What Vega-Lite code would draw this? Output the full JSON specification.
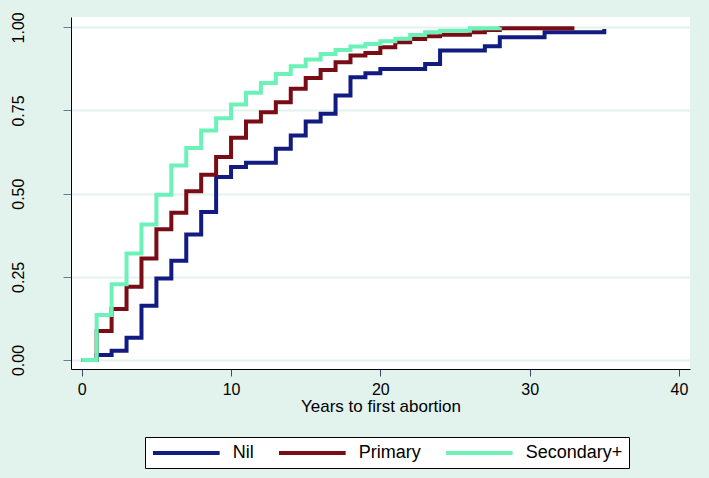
{
  "$schema": "https://vega.github.io/schema/vega-lite/v6.json",
  "width": 619,
  "height": 352,
  "autosize": "none",
  "padding": {"left": 71, "top": 17, "right": 19, "bottom": 109},
  "background": "#e2f3ee",
  "config": {
    "view": {"fill": "white", "stroke": null},
    "font": "Liberation Sans"
  },
  "data": {
    "values": [
      {"group": "Nil", "years": 0, "failure": 0},
      {"group": "Nil", "years": 1, "failure": 0.015},
      {"group": "Nil", "years": 2, "failure": 0.028},
      {"group": "Nil", "years": 3, "failure": 0.067},
      {"group": "Nil", "years": 4, "failure": 0.163},
      {"group": "Nil", "years": 5, "failure": 0.245},
      {"group": "Nil", "years": 6, "failure": 0.298},
      {"group": "Nil", "years": 7, "failure": 0.377},
      {"group": "Nil", "years": 8, "failure": 0.445},
      {"group": "Nil", "years": 9, "failure": 0.55},
      {"group": "Nil", "years": 10, "failure": 0.58},
      {"group": "Nil", "years": 11, "failure": 0.593},
      {"group": "Nil", "years": 13, "failure": 0.635},
      {"group": "Nil", "years": 14, "failure": 0.675},
      {"group": "Nil", "years": 15, "failure": 0.717},
      {"group": "Nil", "years": 16, "failure": 0.74},
      {"group": "Nil", "years": 17, "failure": 0.795},
      {"group": "Nil", "years": 18, "failure": 0.85},
      {"group": "Nil", "years": 19, "failure": 0.862},
      {"group": "Nil", "years": 20, "failure": 0.875},
      {"group": "Nil", "years": 23, "failure": 0.89},
      {"group": "Nil", "years": 24, "failure": 0.93},
      {"group": "Nil", "years": 27, "failure": 0.943},
      {"group": "Nil", "years": 28, "failure": 0.97},
      {"group": "Nil", "years": 31, "failure": 0.985},
      {"group": "Nil", "years": 35, "failure": 0.995},
      {"group": "Primary", "years": 0, "failure": 0},
      {"group": "Primary", "years": 1, "failure": 0.087},
      {"group": "Primary", "years": 2, "failure": 0.153},
      {"group": "Primary", "years": 3, "failure": 0.22},
      {"group": "Primary", "years": 4, "failure": 0.305},
      {"group": "Primary", "years": 5, "failure": 0.393},
      {"group": "Primary", "years": 6, "failure": 0.443},
      {"group": "Primary", "years": 7, "failure": 0.507},
      {"group": "Primary", "years": 8, "failure": 0.557},
      {"group": "Primary", "years": 9, "failure": 0.61},
      {"group": "Primary", "years": 10, "failure": 0.668},
      {"group": "Primary", "years": 11, "failure": 0.717},
      {"group": "Primary", "years": 12, "failure": 0.745},
      {"group": "Primary", "years": 13, "failure": 0.775},
      {"group": "Primary", "years": 14, "failure": 0.815},
      {"group": "Primary", "years": 15, "failure": 0.848},
      {"group": "Primary", "years": 16, "failure": 0.872},
      {"group": "Primary", "years": 17, "failure": 0.895},
      {"group": "Primary", "years": 18, "failure": 0.915},
      {"group": "Primary", "years": 19, "failure": 0.923},
      {"group": "Primary", "years": 20, "failure": 0.94},
      {"group": "Primary", "years": 21, "failure": 0.955},
      {"group": "Primary", "years": 22, "failure": 0.965},
      {"group": "Primary", "years": 23, "failure": 0.973},
      {"group": "Primary", "years": 24, "failure": 0.978},
      {"group": "Primary", "years": 26, "failure": 0.985},
      {"group": "Primary", "years": 27, "failure": 0.992},
      {"group": "Primary", "years": 28, "failure": 0.997},
      {"group": "Primary", "years": 33, "failure": 0.997},
      {"group": "Secondary+", "years": 0, "failure": 0},
      {"group": "Secondary+", "years": 1, "failure": 0.135},
      {"group": "Secondary+", "years": 2, "failure": 0.228},
      {"group": "Secondary+", "years": 3, "failure": 0.32},
      {"group": "Secondary+", "years": 4, "failure": 0.407},
      {"group": "Secondary+", "years": 5, "failure": 0.497},
      {"group": "Secondary+", "years": 6, "failure": 0.585},
      {"group": "Secondary+", "years": 7, "failure": 0.637},
      {"group": "Secondary+", "years": 8, "failure": 0.69},
      {"group": "Secondary+", "years": 9, "failure": 0.727},
      {"group": "Secondary+", "years": 10, "failure": 0.768},
      {"group": "Secondary+", "years": 11, "failure": 0.803},
      {"group": "Secondary+", "years": 12, "failure": 0.833},
      {"group": "Secondary+", "years": 13, "failure": 0.86},
      {"group": "Secondary+", "years": 14, "failure": 0.883},
      {"group": "Secondary+", "years": 15, "failure": 0.903},
      {"group": "Secondary+", "years": 16, "failure": 0.92},
      {"group": "Secondary+", "years": 17, "failure": 0.932},
      {"group": "Secondary+", "years": 18, "failure": 0.942},
      {"group": "Secondary+", "years": 19, "failure": 0.95},
      {"group": "Secondary+", "years": 20, "failure": 0.958},
      {"group": "Secondary+", "years": 21, "failure": 0.966},
      {"group": "Secondary+", "years": 22, "failure": 0.977},
      {"group": "Secondary+", "years": 23, "failure": 0.985},
      {"group": "Secondary+", "years": 24, "failure": 0.99},
      {"group": "Secondary+", "years": 26, "failure": 0.997},
      {"group": "Secondary+", "years": 28, "failure": 1.0}
    ]
  },
  "mark": {"type": "line", "interpolate": "step-after", "strokeWidth": 4, "clip": true},
  "encoding": {
    "x": {
      "field": "years",
      "type": "quantitative",
      "scale": {"domain": [-0.72, 40.74], "nice": false, "zero": false},
      "axis": {
        "title": "Years to first abortion",
        "values": [0, 10, 20, 30, 40],
        "grid": false,
        "domainColor": "#000000",
        "domainWidth": 1,
        "tickColor": "#3a4a7a",
        "tickSize": 7,
        "labelFontSize": 16,
        "labelColor": "#000000",
        "labelPadding": 5,
        "titleFontSize": 17,
        "titleFontWeight": "normal",
        "titleColor": "#000000",
        "titlePadding": 1
      }
    },
    "y": {
      "field": "failure",
      "type": "quantitative",
      "scale": {"domain": [-0.027, 1.031], "nice": false, "zero": false},
      "axis": {
        "title": null,
        "values": [0, 0.25, 0.5, 0.75, 1],
        "format": ".2f",
        "grid": true,
        "gridColor": "#e2f3ee",
        "gridWidth": 2,
        "domainColor": "#000000",
        "domainWidth": 1,
        "tickColor": "#6a7a9a",
        "tickSize": 8,
        "labelAngle": 270,
        "labelAlign": "center",
        "labelBaseline": "alphabetic",
        "labelFontSize": 16,
        "labelColor": "#000000",
        "labelPadding": 40
      }
    },
    "color": {
      "field": "group",
      "type": "nominal",
      "scale": {
        "domain": ["Nil", "Primary", "Secondary+"],
        "range": ["#121c80", "#7a0c16", "#6cf2b8"]
      },
      "legend": {
        "title": null,
        "orient": "none",
        "legendX": 74,
        "legendY": 420,
        "direction": "horizontal",
        "columns": 3,
        "symbolType": "M-1,0H7.33",
        "symbolSize": 256,
        "symbolStrokeWidth": 4,
        "labelFontSize": 18,
        "labelColor": "#000000",
        "labelOffset": 61.7,
        "columnPadding": 17,
        "padding": 6,
        "fillColor": "white",
        "strokeColor": "#000000"
      }
    }
  }
}
